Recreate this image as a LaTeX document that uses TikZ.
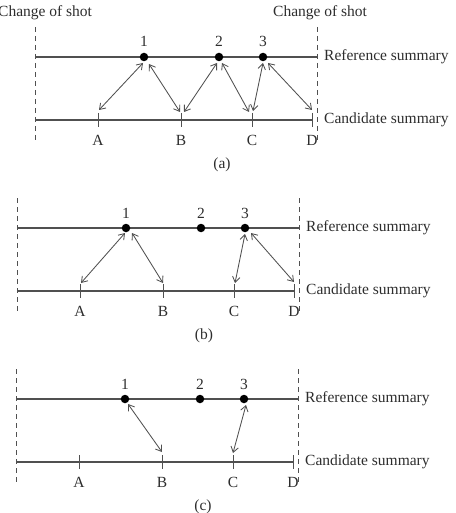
\documentclass[tikz,border=0pt]{standalone}
\usepackage{fontspec}
\setmainfont{Liberation Serif}
\usetikzlibrary{arrows.meta,calc}
\definecolor{ln}{RGB}{80,80,80}
\definecolor{tx}{RGB}{45,45,45}
\tikzset{
  lbl/.style={font=\fontsize{15.5}{17}\selectfont, text=tx, inner sep=0pt},
  shotline/.style={draw=ln, line width=0.9pt, dash pattern=on 5pt off 4pt},
  sumline/.style={draw=ln, line width=1.1pt},
  tickmark/.style={draw=ln, line width=1pt},
  refdot/.style={circle, fill=black, minimum size=8.5pt, inner sep=0pt},
  arr/.style={draw=ln, line width=0.85pt, {Straight Barb[length=5.5pt,width=7.5pt]}-{Straight Barb[length=5.5pt,width=7.5pt]}},
}
\newcommand{\panelbase}[4]{%
  % #1 prefix, #2 x origin, #3 y origin, #4 caption
  \begin{scope}[shift={(#2,#3)}]
    \draw[shotline] (0,-30) -- (0,86);
    \draw[shotline] (282,-30) -- (282,86);
    \draw[sumline] (0,0) -- (282,0);
    \draw[sumline] (0,63) -- (277,63);
    \foreach \n/\x in {A/63,B/146,C/217,D/277}{
      \draw[tickmark] (\x,56) -- (\x,70);
      \coordinate (#1\n) at (\x,56);
      \node[lbl, anchor=center] (#1l\n) at (\x,83) {\n};
    }
    \foreach \n/\x in {1/109,2/184,3/228}{
      \node[refdot] (#1\n) at (\x,0) {};
      \node[lbl, anchor=base] (#1n\n) at (\x,-10) {\n};
    }
    \node[lbl, anchor=west] (#1ref) at (289,0) {Reference summary};
    \node[lbl, anchor=west] (#1cand) at (289,63) {Candidate summary};
    \node[lbl, anchor=center] (#1cap) at (187,108) {#4};
  \end{scope}}
\begin{document}
\begin{tikzpicture}[x=1pt,y=-1pt]
\useasboundingbox (0,0) rectangle (455,513);
\node[lbl, anchor=base west] (shotL) at (-2,17) {Change of shot};
\node[lbl, anchor=base west] (shotR) at (273,17) {Change of shot};
% panel a
\panelbase{a}{35}{57}{(a)}
\draw[arr] ($(a1)+(-1,6)$) -- ($(aA)+(1,-3)$);
\draw[arr] ($(a1)+(5,7)$) -- ($(aB)+(-1,-1)$);
\draw[arr] ($(aB)+(3,-1)$) -- ($(a2)+(-2,6)$);
\draw[arr] ($(a2)+(3,6)$) -- ($(aC)+(-3,-1)$);
\draw[arr] ($(aC)+(1,-2)$) -- ($(a3)+(0,6)$);
\draw[arr] ($(a3)+(5,6)$) -- ($(aD)+(0,-3)$);
% panel b
\panelbase{b}{17}{228}{(b)}
\draw[arr] ($(b1)+(-1,5)$) -- ($(bA)+(1,-1)$);
\draw[arr] ($(b1)+(6,5)$) -- ($(bB)+(0,-1)$);
\draw[arr] ($(bC)+(1,-1)$) -- ($(b3)+(0,6)$);
\draw[arr] ($(b3)+(6,5)$) -- ($(bD)+(0,-2)$);
% panel c
\panelbase{c}{16}{399}{(c)}
\draw[arr] ($(c1)+(3,5)$) -- ($(cB)+(0,-3)$);
\draw[arr] ($(cC)+(0,-2)$) -- ($(c3)+(2,6)$);
\end{tikzpicture}
\end{document}
